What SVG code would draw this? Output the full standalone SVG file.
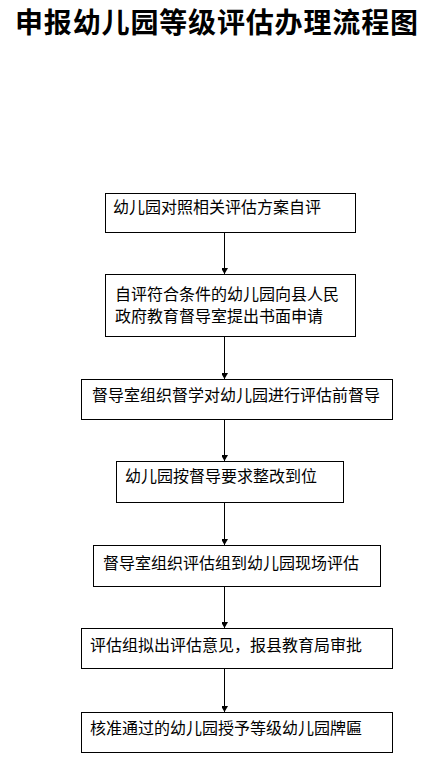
<svg xmlns="http://www.w3.org/2000/svg" width="443" height="763" viewBox="0 0 443 763">
<style>
.box{fill:#fff;stroke:#000;stroke-width:1}
.t{font-family:"Noto Sans CJK SC","Liberation Sans",sans-serif;font-size:16px;fill:#000}
.title{font-family:"Noto Sans CJK SC","Liberation Sans",sans-serif;font-size:28px;font-weight:600;fill:#000}
.c{stroke:#000;stroke-width:1;fill:none}
</style>
<defs>
<marker id="ah" markerWidth="8" markerHeight="6" refX="6" refY="3.5" orient="auto" markerUnits="userSpaceOnUse">
<path d="M0,0 L6,3.5 L0,7 Z" fill="#000"/>
</marker>
</defs>
<rect width="443" height="763" fill="#fff"/>
<text class="title" x="15" y="33" textLength="403" lengthAdjust="spacing">申报幼儿园等级评估办理流程图</text>
<g id="connectors">
<line class="c" x1="224.5" y1="233" x2="224.5" y2="274" marker-end="url(#ah)"/>
<line class="c" x1="224.5" y1="337" x2="224.5" y2="379" marker-end="url(#ah)"/>
<line class="c" x1="224.5" y1="420" x2="224.5" y2="461" marker-end="url(#ah)"/>
<line class="c" x1="224.5" y1="503" x2="224.5" y2="545" marker-end="url(#ah)"/>
<line class="c" x1="224.5" y1="587" x2="224.5" y2="628" marker-end="url(#ah)"/>
<line class="c" x1="224.5" y1="669" x2="224.5" y2="712" marker-end="url(#ah)"/>
</g>
<g id="n1"><rect class="box" x="105.5" y="193.5" width="250" height="39"/><text class="t" x="113" y="212.5">幼儿园对照相关评估方案自评</text></g>
<g id="n2"><rect class="box" x="105.5" y="274.5" width="250" height="62"/><text class="t" x="115" y="299.5">自评符合条件的幼儿园向县人民</text><text class="t" x="115" y="321.5">政府教育督导室提出书面申请</text></g>
<g id="n3"><rect class="box" x="81.5" y="379.5" width="311" height="40"/><text class="t" x="92" y="400.5">督导室组织督学对幼儿园进行评估前督导</text></g>
<g id="n4"><rect class="box" x="116.5" y="461.5" width="227" height="41"/><text class="t" x="125" y="481.5">幼儿园按督导要求整改到位</text></g>
<g id="n5"><rect class="box" x="93.5" y="545.5" width="287" height="41"/><text class="t" x="103" y="568.5">督导室组织评估组到幼儿园现场评估</text></g>
<g id="n6"><rect class="box" x="81.5" y="628.5" width="311" height="40"/><text class="t" x="90" y="650.5">评估组拟出评估意见，报县教育局审批</text></g>
<g id="n7"><rect class="box" x="81.5" y="712.5" width="311" height="40"/><text class="t" x="90" y="733.5">核准通过的幼儿园授予等级幼儿园牌匾</text></g>
</svg>
